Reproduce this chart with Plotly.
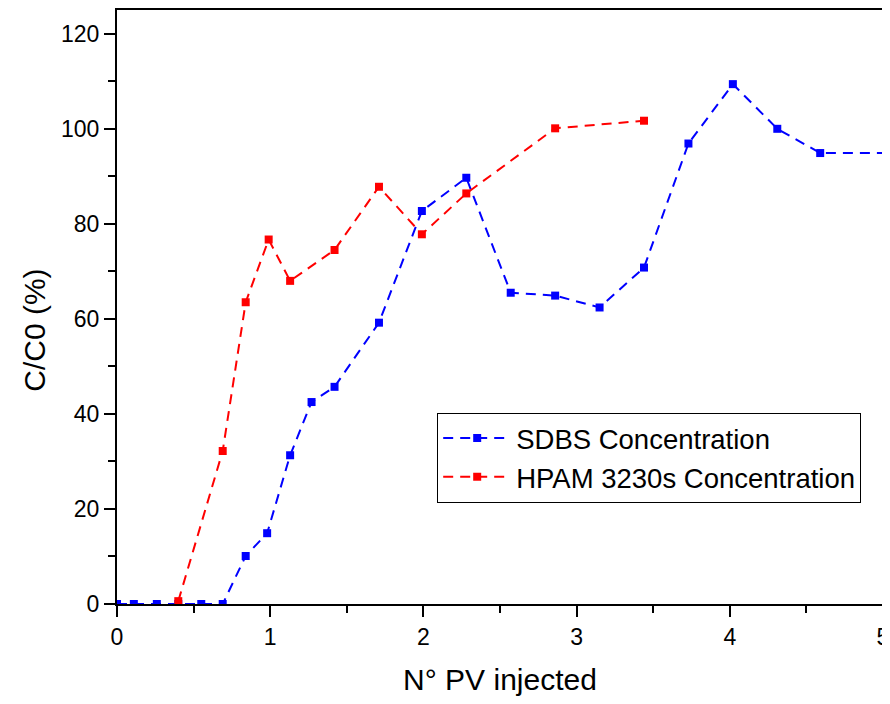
import plotly.graph_objects as go

# SDBS concentration (blue)
sdbs_pv = [0, 0.11, 0.26, 0.40, 0.55, 0.69, 0.84, 0.98, 1.13, 1.27, 1.42, 1.71,
           1.99, 2.28, 2.57, 2.86, 3.15, 3.44, 3.73, 4.02, 4.31, 4.59, 5.05]
sdbs_conc = [0, 0, 0, 0, 0, 0, 10.1, 14.9, 31.3, 42.5, 45.7, 59.2,
             82.7, 89.7, 65.5, 64.9, 62.4, 70.8, 96.9, 109.4, 100.0, 94.9, 94.9]

# HPAM 3230s concentration (red)
hpam_pv = [0.40, 0.69, 0.84, 0.99, 1.13, 1.42, 1.71, 1.99, 2.28, 2.86, 3.44]
hpam_conc = [0.6, 32.2, 63.5, 76.7, 68.0, 74.5, 87.8, 77.8, 86.4, 100.1, 101.7]

x_ticks = [0, 1, 2, 3, 4, 5]
y_ticks = [0, 20, 40, 60, 80, 100, 120]

FONT = 'Liberation Sans, Arial, sans-serif'

fig = go.Figure()
fig.add_trace(go.Scatter(x=sdbs_pv, y=sdbs_conc, mode='lines+markers', name='SDBS Concentration',
                         line=dict(color='#0000ff', width=2, dash='10px,7px'),
                         marker=dict(symbol='square', size=8, color='#0000ff')))
fig.add_trace(go.Scatter(x=hpam_pv, y=hpam_conc, mode='lines+markers', name='HPAM 3230s Concentration',
                         line=dict(color='#ff0000', width=2, dash='10px,7px'),
                         marker=dict(symbol='square', size=8, color='#ff0000')))

axis_common = dict(showline=True, linecolor='black', linewidth=2, mirror=True,
                   ticks='outside', tickcolor='black', tickwidth=2, ticklen=11,
                   showgrid=False, zeroline=False, automargin=False,
                   tickfont=dict(family=FONT, size=23, color='black'))

fig.update_xaxes(range=[0, 5], tickvals=x_ticks,
                 minor=dict(dtick=0.5, ticks='outside', ticklen=7, tickwidth=2, tickcolor='black'),
                 title=dict(text='N° PV injected', font=dict(family=FONT, size=30, color='black'), standoff=20),
                 **axis_common)
fig.update_yaxes(range=[0, 125], tickvals=y_ticks,
                 minor=dict(dtick=10, ticks='outside', ticklen=7, tickwidth=2, tickcolor='black'),
                 **axis_common)

# y title as an annotation so it sits a bit below the plot centre, like the original
fig.add_annotation(text='C/C0 (%)', xref='paper', yref='paper', x=0, y=0.46,
                   xanchor='center', yanchor='middle', xshift=-82, textangle=-90,
                   showarrow=False, font=dict(family=FONT, size=30, color='black'))

# page body has an 8px margin, so the figure is sized/margined to compensate
fig.update_layout(
    width=882, height=696,
    margin=dict(l=109, r=7, t=2, b=100),
    paper_bgcolor='white', plot_bgcolor='white',
    font=dict(family=FONT, color='black'),
    legend=dict(x=0.418, y=0.322, xanchor='left', yanchor='top',
                bgcolor='white', bordercolor='black', borderwidth=1,
                font=dict(family=FONT, size=27.5, color='black'),
                itemwidth=68, tracegroupgap=0),
)

fig.write_html("out.html")
